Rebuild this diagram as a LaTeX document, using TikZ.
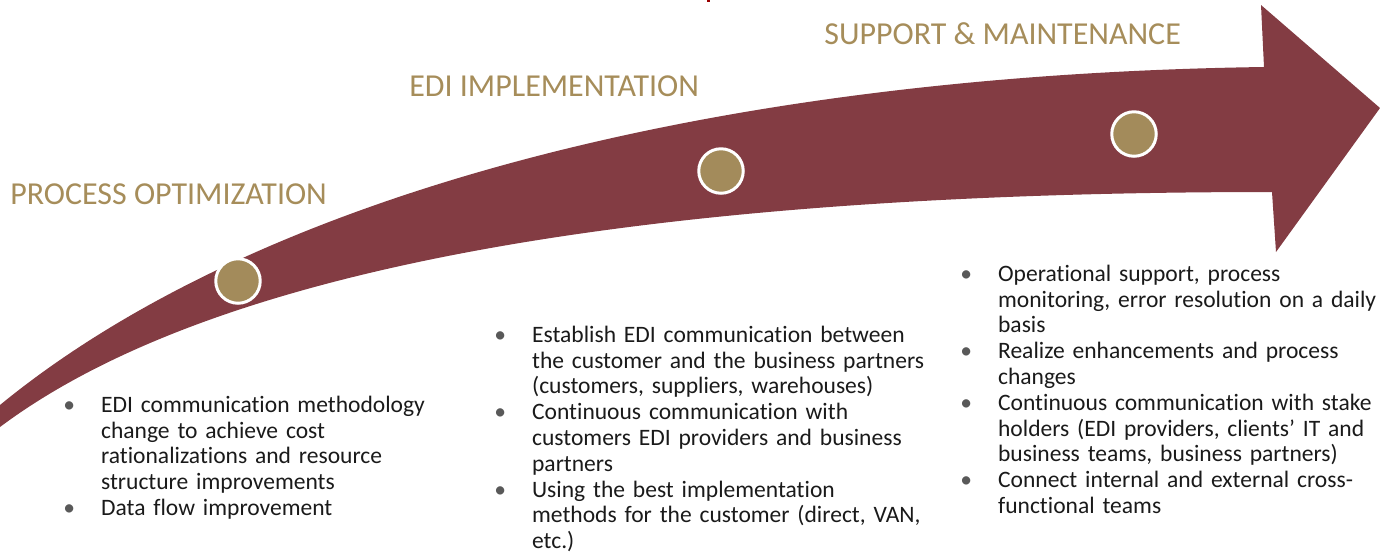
\documentclass[tikz,border=0pt]{standalone}
\usepackage{fontspec}
\setmainfont{Carlito}[Ligatures=NoCommon]

\definecolor{arrowred}{HTML}{833C43}
\definecolor{dotgold}{HTML}{A38B5B}
\definecolor{headgold}{HTML}{A68D5A}
\definecolor{bulletgray}{HTML}{595959}
\definecolor{bodytext}{HTML}{1A1A1A}

% one bullet point with hanging indent
\newcommand{\bitem}[1]{\par\noindent\hangindent=21.5pt\hangafter=1%
  \makebox[21.5pt][l]{\textcolor{bulletgray}{•}}#1\par}

\begin{document}
\begin{tikzpicture}[x=0.02cm, y=-0.02cm]
    \tikzset{
      phase/.style={anchor=base west, inner sep=0, text=headgold,
                    font=\fontsize{18.2pt}{21pt}\selectfont},
      milestone/.style={circle, draw=white, line width=1.7pt, fill=dotgold,
                        minimum size=0.89cm, inner sep=0},
      tasks/.style={anchor=north west, inner sep=0, text width=9cm,
                    align=left, text=bodytext,
                    font=\fontsize{13.4pt}{14.7pt}\selectfont}
    }
    \useasboundingbox (0,0) rectangle (1380,552);
    \clip (0,0) rectangle (1380,552);

    % Pfeil
    \fill[arrowred] (0,405) .. controls (250,200) and (700,75) .. (1264,67)
      -- (1261,5) -- (1380,108) -- (1276,252) -- (1272,192)
      .. controls (700,192) and (230,255) .. (0,427) -- cycle;
    \fill[red!60!black] (707,0) rectangle (710,2);

    \node[milestone] (m1) at (238,281) {};
    \node[milestone] (m2) at (721,171) {};
    \node[milestone] (m3) at (1134,134) {};

    \node[phase] (p1) at (10,204) {PROCESS OPTIMIZATION};
    \node[phase] (p2) at (409,96) {EDI IMPLEMENTATION};
    \node[phase] (p3) at (824,44) {SUPPORT \& MAINTENANCE};

    \node[tasks] (t1) at (63,386)
      {\bitem{EDI communication methodology\newline change to achieve cost\newline rationalizations and resource\newline structure improvements}
       \bitem{Data flow improvement}};
    \node[tasks] (t2) at (494,316)
      {\bitem{Establish EDI communication between\newline the customer and the business partners\newline (customers, suppliers, warehouses)}
       \bitem{Continuous communication with\newline customers EDI providers and business\newline partners}
       \bitem{Using the best implementation\newline methods for the customer (direct, VAN,\newline etc.)}};
    \node[tasks] (t3) at (960,255)
      {\bitem{Operational support, process\newline monitoring, error resolution on a daily\newline basis}
       \bitem{Realize enhancements and process\newline changes}
       \bitem{Continuous communication with stake\newline holders (EDI providers, clients’ IT and\newline business teams, business partners)}
       \bitem{Connect internal and external cross-\newline functional teams}};
  \end{tikzpicture}
\end{document}
